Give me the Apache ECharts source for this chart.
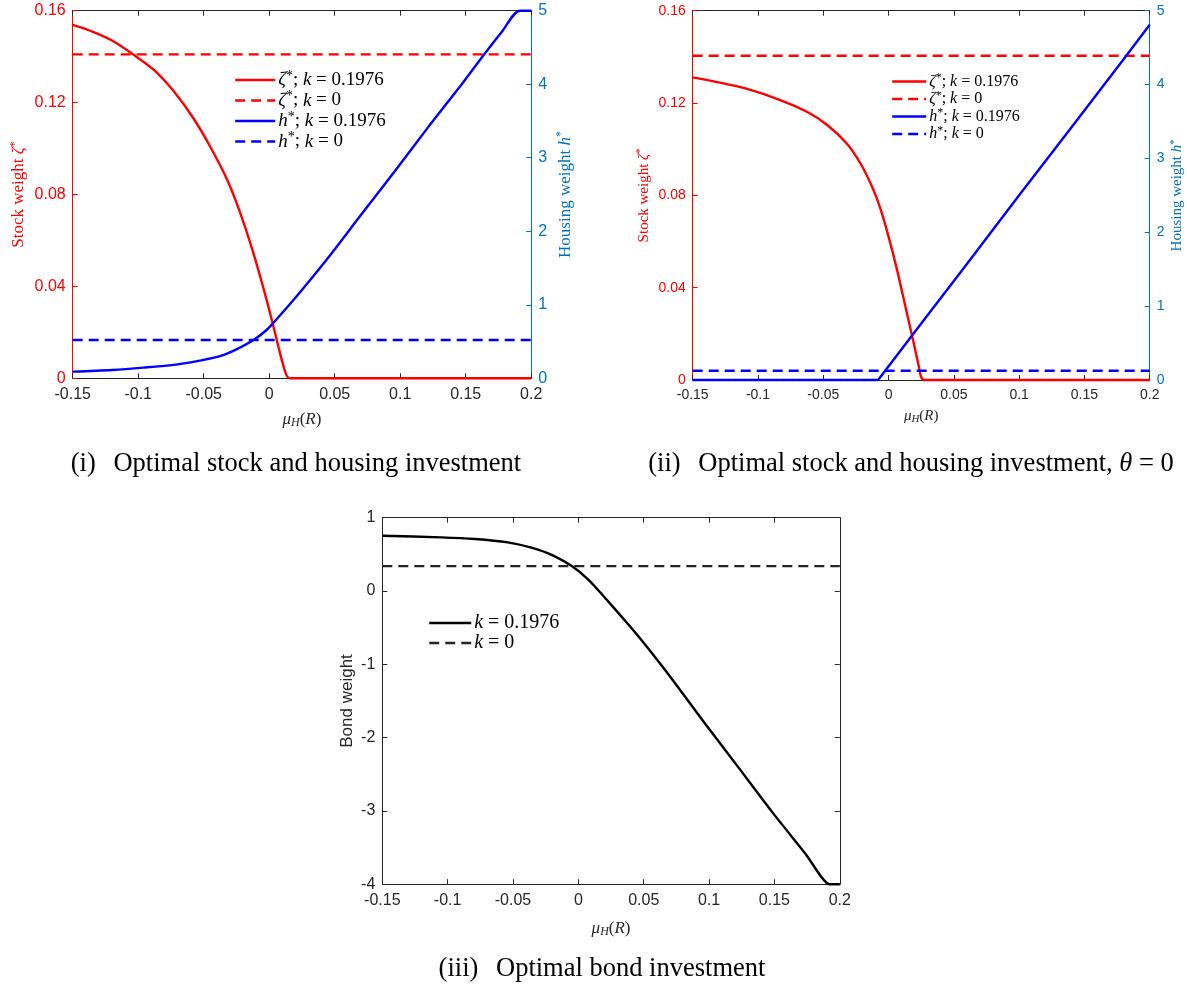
<!DOCTYPE html>
<html>
<head>
<meta charset="utf-8">
<script src="https://cdn.jsdelivr.net/npm/echarts@6/dist/echarts.min.js"></script>
<style>
html, body { margin: 0; padding: 0; background: #ffffff; }
#chart { width: 1187px; height: 989px; }
</style>
</head>
<body>
<div id="chart"></div>
<script>
// ---- tick values ----
const muTicks = [-0.15, -0.1, -0.05, 0, 0.05, 0.1, 0.15, 0.2];
const stockTicks = [0, 0.04, 0.08, 0.12, 0.16];
const housingTicks = [0, 1, 2, 3, 4, 5];
const bondTicks = [-4, -3, -2, -1, 0, 1];

// ---- panel (i): optimal stock and housing investment ----
const p1StockMu = [-0.15, -0.135, -0.12, -0.104, -0.088, -0.073, -0.058, -0.045, -0.032, -0.022, -0.012, -0.004, 0.002, 0.007, 0.011, 0.0135, 0.016, 0.05, 0.1, 0.15, 0.2];
const p1Stock   = [0.1538, 0.1509, 0.1470, 0.1410, 0.1342, 0.1250, 0.1133, 0.1008, 0.0863, 0.0718, 0.0544, 0.0384, 0.0254, 0.0138, 0.0051, 0.0010, 0, 0, 0, 0, 0];
const p1HouseMu = [-0.15, -0.12, -0.096, -0.07, -0.053, -0.037, -0.025, -0.012, -0.002, 0.008, 0.019, 0.03, 0.045, 0.07, 0.096, 0.1215, 0.147, 0.163, 0.1775, 0.1915, 0.2];
const p1House   = [0.091, 0.113, 0.145, 0.19, 0.24, 0.304, 0.394, 0.521, 0.657, 0.85, 1.075, 1.31, 1.64, 2.22, 2.82, 3.42, 4.0, 4.38, 4.71, 5.0, 5.0];
const p1FlatMu = [-0.15, 0.2];
const p1StockNoCost = [0.141, 0.141];
const p1HouseNoCost = [0.52, 0.52];

// ---- panel (ii): optimal stock and housing investment, theta = 0 ----
const p2StockMu = [-0.15, -0.134, -0.109, -0.083, -0.0625, -0.047, -0.032, -0.0216, -0.0127, -0.0063, 0.0, 0.0065, 0.0129, 0.0193, 0.0232, 0.0248, 0.027, 0.05, 0.1, 0.15, 0.2];
const p2Stock   = [0.1311, 0.1294, 0.1262, 0.1213, 0.1162, 0.1105, 0.1025, 0.0939, 0.0838, 0.0744, 0.0621, 0.0477, 0.0318, 0.0159, 0.0058, 0.0015, 0, 0, 0, 0, 0];
const p2HouseMu = [-0.15, -0.05, -0.008, 0.024, 0.06, 0.1, 0.14, 0.179, 0.2];
const p2House   = [0, 0, 0, 0.74, 1.57, 2.50, 3.42, 4.32, 4.81];
const p2FlatMu = [-0.15, 0.2];
const p2StockNoCost = [0.1405, 0.1405];
const p2HouseNoCost = [0.126, 0.126];

// ---- panel (iii): optimal bond investment ----
const p3BondMu = [-0.15, -0.105, -0.079, -0.054, -0.036, -0.020, -0.005, 0.008, 0.020, 0.035, 0.051, 0.072, 0.097, 0.123, 0.148, 0.174, 0.192, 0.2];
const p3Bond   = [0.754, 0.732, 0.709, 0.663, 0.591, 0.490, 0.340, 0.149, -0.085, -0.39, -0.73, -1.21, -1.81, -2.42, -3.01, -3.59, -4.0, -4.0];
const p3FlatMu = [-0.15, 0.2];
const p3BondNoCost = [0.34, 0.34];

// ---- styling helpers ----
const RED = '#ff0000', BLUE = '#0000ff', AXBLUE = '#0072bd', DARK = '#262626';
const SERIF = '"Liberation Serif", "DejaVu Serif", serif';
const SANS = '"Liberation Sans", Arial, sans-serif';
const LINE_W = 2.4;

const zip = (xs, ys) => xs.map((x, i) => [x, ys[i]]);
const step = t => Number((t[1] - t[0]).toFixed(6));
const fmt = v => String(parseFloat(Number(v).toFixed(4)));

function mathRich(size, color, lh) {
  const L = lh || Math.round(size * 1.2);
  return {
    n: { fontFamily: SERIF, fontSize: size, color: color, lineHeight: L },
    i: { fontFamily: SERIF, fontStyle: 'italic', fontSize: size, color: color, lineHeight: L },
    s: { fontFamily: SERIF, fontSize: Math.round(size * 0.72), color: color, verticalAlign: 'top', lineHeight: Math.round(size * 0.8) },
    b: { fontFamily: SERIF, fontStyle: 'italic', fontSize: Math.round(size * 0.72), color: color, verticalAlign: 'bottom', lineHeight: Math.round(size * 0.72), padding: [Math.round(size * 0.4), 0, 0, 0] }
  };
}

const muName = '{i|μ}{b|H}{n|(}{i|R}{n|)}';

function xBottom(grid, fs, nfs, gap) {
  return {
    type: 'value', gridIndex: grid, position: 'bottom',
    min: muTicks[0], max: muTicks[muTicks.length - 1], interval: step(muTicks),
    name: muName, nameLocation: 'middle', nameGap: gap,
    nameTextStyle: { rich: mathRich(nfs, DARK) },
    axisLine: { show: true, onZero: false, lineStyle: { color: DARK, width: 1 } },
    axisTick: { show: true, inside: true, length: 5, lineStyle: { color: DARK } },
    axisLabel: { show: true, interval: 0, color: DARK, fontFamily: SANS, fontSize: fs, margin: 8, formatter: fmt },
    splitLine: { show: false }
  };
}
function xTop(grid) {
  return {
    type: 'value', gridIndex: grid, position: 'top',
    min: muTicks[0], max: muTicks[muTicks.length - 1], interval: step(muTicks),
    axisLine: { show: true, onZero: false, lineStyle: { color: DARK, width: 1 } },
    axisTick: { show: true, inside: true, length: 5, lineStyle: { color: DARK } },
    axisLabel: { show: false }, splitLine: { show: false }
  };
}
function yAxis(grid, pos, ticks, color, fs, opts) {
  return Object.assign({
    type: 'value', gridIndex: grid, position: pos,
    min: ticks[0], max: ticks[ticks.length - 1], interval: step(ticks),
    axisLine: { show: true, onZero: false, lineStyle: { color: color, width: 1 } },
    axisTick: { show: true, inside: true, length: 5, lineStyle: { color: color } },
    axisLabel: { show: true, color: color, fontFamily: SANS, fontSize: fs, margin: 7, formatter: fmt },
    splitLine: { show: false }
  }, opts || {});
}

function line(name, xIdx, yIdx, xs, ys, color, dashed, smooth) {
  return {
    type: 'line', name: name, xAxisIndex: xIdx, yAxisIndex: yIdx,
    data: zip(xs, ys), symbol: 'none', showSymbol: false, clip: false,
    smooth: smooth, silent: true,
    lineStyle: { color: color, width: LINE_W, type: dashed ? [10, 6] : 'solid' },
    itemStyle: { color: color }
  };
}

// legend texts for each series
const EQ = '\u2005=\u2005';
const legendText = {
  s1k: '{i|ζ}{s|*}{n|;\u2005}{i|k}{n|' + EQ + '0.1976}',
  s10: '{i|ζ}{s|*}{n|;\u2005}{i|k}{n|' + EQ + '0}',
  h1k: '{i|h}{s|*}{n|;\u2005}{i|k}{n|' + EQ + '0.1976}',
  h10: '{i|h}{s|*}{n|;\u2005}{i|k}{n|' + EQ + '0}',
  s2k: '{i|ζ}{s|*}{n|;\u2005}{i|k}{n|' + EQ + '0.1976}',
  s20: '{i|ζ}{s|*}{n|;\u2005}{i|k}{n|' + EQ + '0}',
  h2k: '{i|h}{s|*}{n|;\u2005}{i|k}{n|' + EQ + '0.1976}',
  h20: '{i|h}{s|*}{n|;\u2005}{i|k}{n|' + EQ + '0}',
  b3k: '{i|k}{n|' + EQ + '0.1976}',
  b30: '{i|k}{n|' + EQ + '0}'
};

function legend(names, left, top, w, fs, lh) {
  return {
    data: names, orient: 'vertical', left: left, top: top,
    itemWidth: w, itemHeight: 10, itemGap: 0, padding: 0,
    selectedMode: false, backgroundColor: 'transparent',
    itemStyle: { opacity: 0, borderWidth: 0 },
    lineStyle: { width: LINE_W },
    textStyle: { rich: mathRich(fs, '#000000', lh), padding: [0, 0, 0, -2] },
    formatter: n => legendText[n]
  };
}

const stockName = '{n|Stock weight }{i|ζ}{s|*}';
const houseName = '{n|Housing weight }{i|h}{s|*}';

const option = {
  animation: false,
  backgroundColor: '#ffffff',
  grid: [
    { left: 72.7, top: 10.7, width: 458.5, height: 367.6 },
    { left: 692.7, top: 10.7, width: 457, height: 369.3 },
    { left: 382.3, top: 517.7, width: 457.5, height: 366.5 }
  ],
  xAxis: [
    xBottom(0, 16, 17, 31), xTop(0),
    xBottom(1, 14, 15, 27), xTop(1),
    xBottom(2, 16, 17, 34), xTop(2)
  ],
  yAxis: [
    yAxis(0, 'left', stockTicks, RED, 16, { name: stockName, nameLocation: 'middle', nameRotate: 90, nameGap: 44, nameTextStyle: { rich: mathRich(17, RED) } }),
    yAxis(0, 'right', housingTicks, AXBLUE, 16, { name: houseName, nameLocation: 'middle', nameRotate: 90, nameGap: 24, nameTextStyle: { rich: mathRich(17, AXBLUE) } }),
    yAxis(1, 'left', stockTicks, RED, 14, { name: stockName, nameLocation: 'middle', nameRotate: 90, nameGap: 40, nameTextStyle: { rich: mathRich(15, RED) } }),
    yAxis(1, 'right', housingTicks, AXBLUE, 14, { name: houseName, nameLocation: 'middle', nameRotate: 90, nameGap: 15, nameTextStyle: { rich: mathRich(15, AXBLUE) } }),
    yAxis(2, 'left', bondTicks, DARK, 16, { name: 'Bond weight', nameLocation: 'middle', nameRotate: 90, nameGap: 26, nameTextStyle: { color: DARK, fontFamily: SANS, fontSize: 17 } }),
    yAxis(2, 'right', bondTicks, DARK, 16, { axisLabel: { show: false } })
  ],
  legend: [
    legend(['s1k', 's10', 'h1k', 'h10'], 234, 69, 40, 19, 22),
    legend(['s2k', 's20', 'h2k', 'h20'], 891, 72, 34, 16, 19),
    legend(['b3k', 'b30'], 428, 613, 42, 20, 23)
  ],
  series: [
    line('s1k', 0, 0, p1StockMu, p1Stock, RED, false, 0.3),
    line('s10', 0, 0, p1FlatMu, p1StockNoCost, RED, true, false),
    line('h1k', 0, 1, p1HouseMu, p1House, BLUE, false, 0.3),
    line('h10', 0, 1, p1FlatMu, p1HouseNoCost, BLUE, true, false),

    line('s2k', 2, 2, p2StockMu, p2Stock, RED, false, 0.3),
    line('s20', 2, 2, p2FlatMu, p2StockNoCost, RED, true, false),
    line('h2k', 2, 3, p2HouseMu, p2House, BLUE, false, false),
    line('h20', 2, 3, p2FlatMu, p2HouseNoCost, BLUE, true, false),

    line('b3k', 4, 4, p3BondMu, p3Bond, '#000000', false, 0.2),
    line('b30', 4, 4, p3FlatMu, p3BondNoCost, '#262626', true, false)
  ],
  graphic: [
    { type: 'text', x: 296, y: 464, silent: true,
      style: { text: '(i)\u2002\u2006Optimal stock and housing investment', font: '26.5px ' + SERIF, fill: '#000', align: 'center', verticalAlign: 'middle' } },
    { type: 'text', x: 911, y: 464, silent: true,
      style: { text: '{n|(ii)\u2002\u2006Optimal stock and housing investment, }{i|θ}{n|\u2005=\u20050}', rich: {
        n: { font: '26.5px ' + SERIF, fill: '#000' }, i: { font: 'italic 26.5px ' + SERIF, fill: '#000' } },
        align: 'center', verticalAlign: 'middle' } },
    { type: 'text', x: 602, y: 969, silent: true,
      style: { text: '(iii)\u2002\u2006Optimal bond investment', font: '26.5px ' + SERIF, fill: '#000', align: 'center', verticalAlign: 'middle' } }
  ]
};

const chart = echarts.init(document.getElementById('chart'), null, { renderer: 'canvas' });
chart.setOption(option);
</script>
</body>
</html>
